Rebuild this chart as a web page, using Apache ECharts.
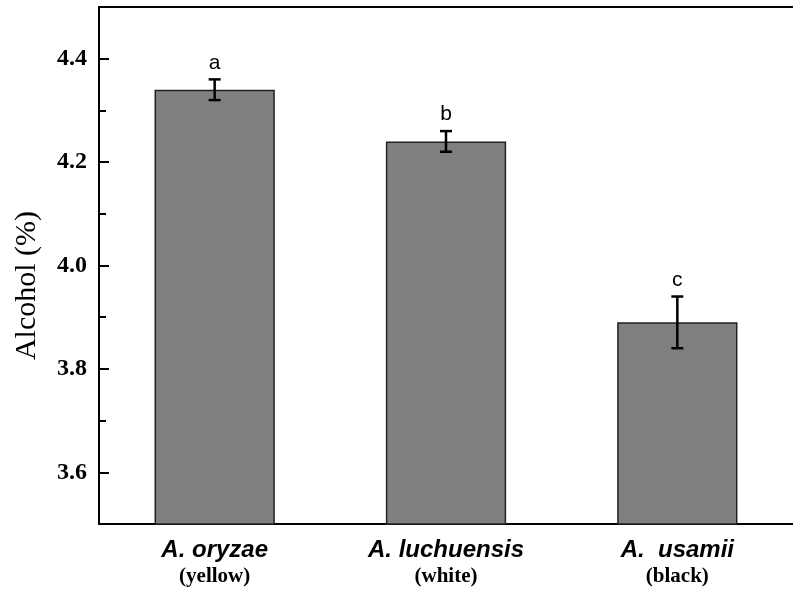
<!DOCTYPE html>
<html><head><meta charset="utf-8">
<script src="https://cdn.jsdelivr.net/npm/echarts@6/dist/echarts.min.js"></script>
<style>html,body{margin:0;padding:0;background:#fff}#c{width:793px;height:589px}</style>
</head><body><div id="c"></div>
<script>
const species = ['A. oryzae', 'A. luchuensis', 'A.  usamii'];
const colorNames = ['(yellow)', '(white)', '(black)'];
const alcohol = [4.34, 4.24, 3.89];
const errors = [0.02, 0.02, 0.05];
const letters = ['a', 'b', 'c'];
const majorTicks = [3.6, 3.8, 4.0, 4.2, 4.4];
const minorTicks = [3.7, 3.9, 4.1, 4.3];

const chart = echarts.init(document.getElementById('c'));
chart.setOption({
  animation: false,
  grid: {left: 99, right: 0, top: 7, bottom: 65},
  xAxis: [{
    type: 'category', data: species,
    axisLine: {lineStyle: {color: '#000', width: 2}},
    axisTick: {show: false},
    axisLabel: {
      margin: 12, interval: 0,
      formatter: (v, i) => '{i|' + v + '}\n{b|' + colorNames[i] + '}',
      rich: {
        i: {fontFamily: 'Liberation Sans', fontStyle: 'italic', fontWeight: 'bold', fontSize: 24, color: '#000', lineHeight: 28},
        b: {fontFamily: 'Liberation Serif', fontWeight: 'bold', fontSize: 21, color: '#000', lineHeight: 26}
      }
    }
  }, {
    type: 'category', data: species, position: 'top',
    axisLine: {show: true, onZero: false, lineStyle: {color: '#000', width: 2}},
    axisTick: {show: false}, axisLabel: {show: false}
  }],
  yAxis: [{
    type: 'value', min: 3.5, max: 4.5,
    name: 'Alcohol (%)', nameLocation: 'middle', nameGap: 57,
    nameTextStyle: {fontFamily: 'Liberation Serif', fontSize: 30, color: '#000', padding: [0, 40, 0, 0]},
    axisLine: {show: true, lineStyle: {color: '#000', width: 2}},
    axisTick: {show: true, inside: true, length: 10, customValues: majorTicks, lineStyle: {width: 2, color: '#000'}},
    axisLabel: {customValues: majorTicks, margin: 12, formatter: v => v.toFixed(1),
      fontFamily: 'Liberation Serif', fontWeight: 'bold', fontSize: 24, color: '#000'},
    splitLine: {show: false}
  }, {
    type: 'value', min: 3.5, max: 4.5, position: 'left',
    axisLine: {show: false},
    axisTick: {show: true, inside: true, length: 7, customValues: minorTicks, lineStyle: {width: 2, color: '#000'}},
    axisLabel: {show: false},
    splitLine: {show: false}
  }],
  series: [{
    type: 'bar', data: alcohol, barWidth: '52%',
    itemStyle: {color: '#808080', borderColor: '#222', borderWidth: 1.5}
  }, {
    type: 'custom',
    data: alcohol.map((v, i) => [i, v, errors[i]]),
    renderItem: function (params, api) {
      const i = api.value(0), m = api.value(1), e = api.value(2);
      const hi = api.coord([i, m + e]);
      const lo = api.coord([i, m - e]);
      const hw = 6;
      const st = {stroke: '#000', lineWidth: 2.5};
      return {type: 'group', children: [
        {type: 'line', shape: {x1: hi[0], y1: hi[1], x2: lo[0], y2: lo[1]}, style: st},
        {type: 'line', shape: {x1: hi[0] - hw, y1: hi[1], x2: hi[0] + hw, y2: hi[1]}, style: st},
        {type: 'line', shape: {x1: lo[0] - hw, y1: lo[1], x2: lo[0] + hw, y2: lo[1]}, style: st},
        {type: 'text', style: {text: letters[params.dataIndex], x: hi[0], y: hi[1] - 6,
          align: 'center', verticalAlign: 'bottom', fontFamily: 'Liberation Sans', fontSize: 21, fill: '#000'}}
      ]};
    },
    z: 5
  }]
});
</script></body></html>
